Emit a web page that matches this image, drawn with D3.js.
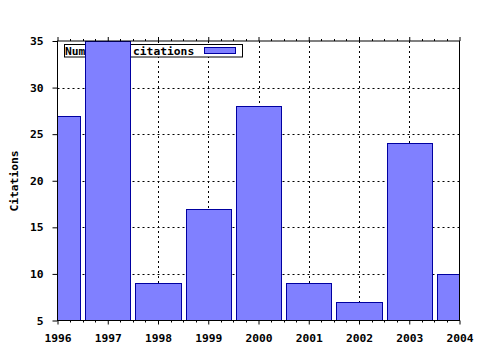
<!DOCTYPE html>
<html>
<head>
<meta charset="utf-8">
<script src="https://cdn.jsdelivr.net/npm/d3@7"></script>
<style>
  body { margin: 0; background: #fff; }
  text { font-family: "DejaVu Sans Mono", monospace; font-weight: bold; font-size: 11.3px; fill: #000; }
</style>
</head>
<body>
<div id="chart"></div>
<script>
// ---------- data ----------
const years = [1996, 1997, 1998, 1999, 2000, 2001, 2002, 2003, 2004];
const citations = [27, 35, 9, 17, 28, 9, 7, 24, 10];
const yTicks = [5, 10, 15, 20, 25, 30, 35];
const seriesName = "Number of citations";
const yLabel = "Citations";

const w = 480, h = 350;
const padLeft = 57.5, padRight = 459.5, padTop = 41, padBottom = 320.5;
const barWidth = 0.9; // in years
const fillColor = "#8080ff", edgeColor = "#0000a0";

const x = d3.scaleLinear().domain([1996, 2004]).range([padLeft, padRight]);
const y = d3.scaleLinear().domain([5, 35]).range([padBottom, padTop]);

const svg = d3.select("#chart").append("svg")
  .attr("width", w).attr("height", h);

svg.append("defs").append("clipPath").attr("id", "plot")
  .append("rect")
  .attr("x", padLeft).attr("y", padTop)
  .attr("width", padRight - padLeft).attr("height", padBottom - padTop);

// ---------- grid ----------
const grid = svg.append("g")
  .attr("stroke", "#000").attr("stroke-dasharray", "2,3").attr("stroke-width", 1);
grid.selectAll(".gx").data(years.slice(1, -1)).enter().append("line")
  .attr("x1", d => Math.round(x(d)) + 0.5).attr("x2", d => Math.round(x(d)) + 0.5)
  .attr("y1", padTop).attr("y2", padBottom);
grid.selectAll(".gy").data(yTicks.slice(1, -1)).enter().append("line")
  .attr("x1", padLeft).attr("x2", padRight)
  .attr("y1", d => Math.round(y(d)) + 0.5).attr("y2", d => Math.round(y(d)) + 0.5);

// ---------- legend (drawn under the bars) ----------
const legend = svg.append("g");
legend.append("rect")
  .attr("x", 64.5).attr("y", 44.5).attr("width", 178).attr("height", 12.5)
  .attr("fill", "#fff").attr("stroke", "#000");
legend.append("text")
  .attr("x", 65).attr("y", 54.5)
  .text(seriesName);
legend.append("rect")
  .attr("x", 204.5).attr("y", 47.5).attr("width", 31).attr("height", 6)
  .attr("fill", fillColor).attr("stroke", edgeColor);

// ---------- bars ----------
svg.append("g").attr("clip-path", "url(#plot)")
  .selectAll("rect").data(citations).enter().append("rect")
  .attr("x", (d, i) => Math.round(x(years[i] - barWidth / 2)) + 0.5)
  .attr("width", (d, i) => Math.round(x(years[i] + barWidth / 2)) - Math.round(x(years[i] - barWidth / 2)))
  .attr("y", d => Math.round(y(d)) + 0.5)
  .attr("height", d => Math.round(y(5)) - Math.round(y(d)) + 2)
  .attr("fill", fillColor).attr("stroke", edgeColor).attr("stroke-width", 1);

// ---------- frame ----------
svg.append("rect")
  .attr("x", padLeft).attr("y", padTop).attr("width", padRight - padLeft).attr("height", padBottom - padTop)
  .attr("fill", "none").attr("stroke", "#000");

// ---------- axes ----------
const minor = d3.range(1996, 2004.01, 0.25).filter(d => d % 1 !== 0);
const xBottom = svg.append("g")
  .attr("transform", "translate(0," + padBottom + ")")
  .call(d3.axisBottom(x).tickValues(years).tickFormat(d3.format("d")).tickSize(4).tickPadding(9));
const xTop = svg.append("g")
  .attr("transform", "translate(0," + padTop + ")")
  .call(d3.axisTop(x).tickValues(years).tickFormat("").tickSize(4));
const yLeft = svg.append("g")
  .attr("transform", "translate(" + padLeft + ",0)")
  .call(d3.axisLeft(y).tickValues(yTicks).tickSize(5).tickPadding(9));

[xBottom, xTop, yLeft].forEach(g => {
  g.select(".domain").remove();
  g.selectAll("line").attr("stroke", "#000");
  g.selectAll("text").attr("font-family", null).attr("font-size", null).style("fill", "#000");
});

// minor x ticks
svg.append("g").selectAll("line").data(minor).enter().append("line")
  .attr("x1", d => Math.round(x(d)) + 0.5).attr("x2", d => Math.round(x(d)) + 0.5)
  .attr("y1", padBottom).attr("y2", padBottom + 2).attr("stroke", "#000");
svg.append("g").selectAll("line").data(minor).enter().append("line")
  .attr("x1", d => Math.round(x(d)) + 0.5).attr("x2", d => Math.round(x(d)) + 0.5)
  .attr("y1", padTop).attr("y2", padTop - 2).attr("stroke", "#000");

// ---------- y label ----------
svg.append("text")
  .attr("text-anchor", "middle")
  .attr("transform", "translate(17.5,181) rotate(-90)")
  .text(yLabel);
</script>
</body>
</html>
